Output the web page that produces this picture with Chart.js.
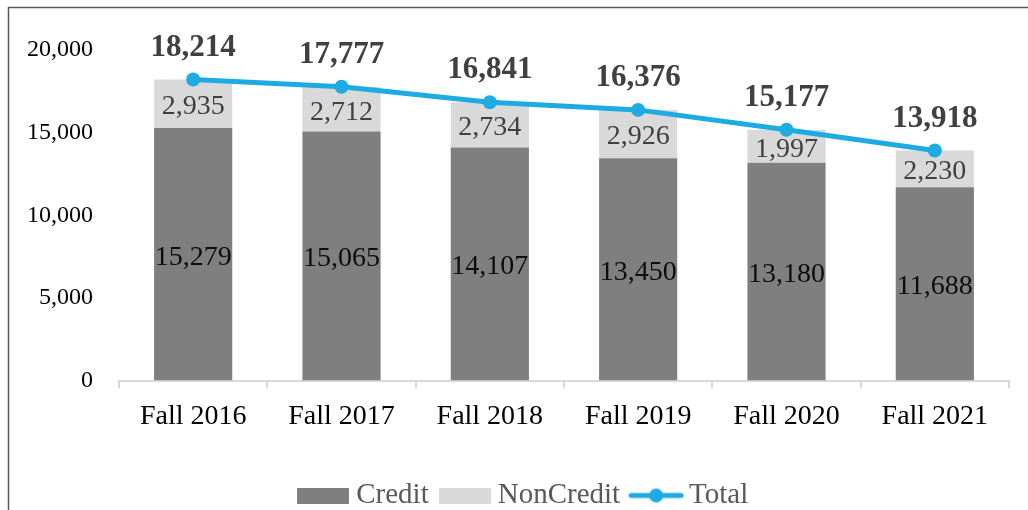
<!DOCTYPE html>
<html>
<head>
<meta charset="utf-8">
<script src="https://cdn.jsdelivr.net/npm/chart.js@4.4.1/dist/chart.umd.min.js"></script>
<style>
  html, body { margin: 0; padding: 0; background: #fff; }
  #wrap { position: relative; width: 1028px; height: 510px; overflow: hidden; }
  canvas { display: block; }
</style>
</head>
<body>
<div id="wrap"><canvas id="c" width="1028" height="510"></canvas></div>
<script>
const categories = ['Fall 2016', 'Fall 2017', 'Fall 2018', 'Fall 2019', 'Fall 2020', 'Fall 2021'];
const creditValues = [15279, 15065, 14107, 13450, 13180, 11688];
const nonCreditValues = [2935, 2712, 2734, 2926, 1997, 2230];
const totalValues = [18214, 17777, 16841, 16376, 15177, 13918];
const yTicks = [0, 5000, 10000, 15000, 20000];

const FONT = "'Liberation Serif', 'Times New Roman', serif";
const CREDIT = '#7f7f7f';
const NONCREDIT = '#d9d9d9';
const LINE = '#1eaae2';

function fmt(v) { return v.toLocaleString('en-US'); }

function boxImg(color) {
  const c = document.createElement('canvas');
  c.width = 52; c.height = 16;
  const x = c.getContext('2d');
  x.fillStyle = color; x.fillRect(0, 0, 52, 16);
  return c;
}
function lineImg() {
  const c = document.createElement('canvas');
  c.width = 56; c.height = 16;
  const x = c.getContext('2d');
  x.strokeStyle = LINE; x.lineWidth = 5; x.lineCap = 'round';
  x.beginPath(); x.moveTo(3, 8); x.lineTo(53, 8); x.stroke();
  x.fillStyle = LINE; x.beginPath(); x.arc(28, 8, 7, 0, Math.PI * 2); x.fill();
  return c;
}
const legendImgs = [boxImg(CREDIT), boxImg(NONCREDIT), lineImg()];

const borderPlugin = {
  id: 'frame',
  afterLayout(chart) {
    if (chart.legend) { chart.legend.left += 22; chart.legend.right += 22; }
  },
  beforeDraw(chart) {
    const ctx = chart.ctx;
    ctx.save();
    ctx.strokeStyle = '#595959';
    ctx.lineWidth = 1.5;
    ctx.beginPath();
    ctx.moveTo(8.5, 520);
    ctx.lineTo(8.5, 7.5);
    ctx.lineTo(1040, 7.5);
    ctx.stroke();
    ctx.restore();
  }
};

const labelPlugin = {
  id: 'valueLabels',
  afterDatasetsDraw(chart) {
    const ctx = chart.ctx;
    ctx.save();
    ctx.textAlign = 'center';
    ctx.textBaseline = 'middle';
    [0, 1].forEach(di => {
      const meta = chart.getDatasetMeta(di);
      const data = chart.data.datasets[di].data;
      ctx.font = '28px ' + FONT;
      ctx.fillStyle = di === 0 ? '#0d0d0d' : '#404040';
      meta.data.forEach((bar, i) => {
        const yc = (bar.y + bar.base) / 2;
        ctx.fillText(fmt(data[i]), bar.x, yc + 3);
      });
    });
    const lm = chart.getDatasetMeta(2);
    ctx.font = 'bold 31px ' + FONT;
    ctx.fillStyle = '#404040';
    lm.data.forEach((pt, i) => {
      ctx.fillText(fmt(totalValues[i]), pt.x, pt.y - 32);
    });
    ctx.restore();
  }
};

new Chart(document.getElementById('c'), {
  type: 'bar',
  data: {
    labels: categories,
    datasets: [
      { label: 'Credit', data: creditValues, backgroundColor: CREDIT, stack: 'bars', order: 2,
        categoryPercentage: 1, barPercentage: 0.527 },
      { label: 'NonCredit', data: nonCreditValues, backgroundColor: NONCREDIT, stack: 'bars', order: 2,
        categoryPercentage: 1, barPercentage: 0.527 },
      { label: 'Total', type: 'line', data: totalValues, borderColor: LINE, backgroundColor: LINE,
        borderWidth: 5, pointRadius: 7, pointHoverRadius: 7, pointBorderWidth: 0,
        pointBackgroundColor: LINE, stack: 'line', order: 0, tension: 0 }
    ]
  },
  options: {
    responsive: false,
    animation: false,
    devicePixelRatio: 1,
    layout: { padding: { left: 0, right: 19, top: 50, bottom: -10 } },
    plugins: {
      legend: {
        position: 'bottom',
        labels: {
          font: { family: FONT, size: 29 },
          color: '#595959',
          usePointStyle: true,
          pointStyleWidth: 37,
          padding: 17.5,
          generateLabels(chart) {
            return chart.data.datasets.map((ds, i) => ({
              text: ds.label,
              pointStyle: legendImgs[i],
              fillStyle: 'transparent',
              strokeStyle: 'transparent',
              lineWidth: 0,
              fontColor: '#595959',
              datasetIndex: i,
              hidden: false
            }));
          }
        }
      },
      tooltip: { enabled: false }
    },
    scales: {
      x: {
        stacked: true,
        afterFit(scale) { scale.height = 83; },
        grid: { display: true, drawOnChartArea: false, drawTicks: true, tickLength: 8,
                color: '#d9d9d9', lineWidth: 2, offset: true },
        border: { display: true, color: '#d9d9d9', width: 2 },
        ticks: { font: { family: FONT, size: 28 }, color: '#000', padding: 11 }
      },
      y: {
        stacked: true,
        min: 0, max: 20000,
        afterFit(scale) { scale.width = 119; },
        afterBuildTicks(scale) { scale.ticks = yTicks.map(v => ({ value: v })); },
        grid: { display: false },
        border: { display: false },
        ticks: { font: { family: FONT, size: 24 }, color: '#000', padding: 18,
                 callback: v => fmt(v) }
      }
    }
  },
  plugins: [borderPlugin, labelPlugin]
});
</script>
</body>
</html>
